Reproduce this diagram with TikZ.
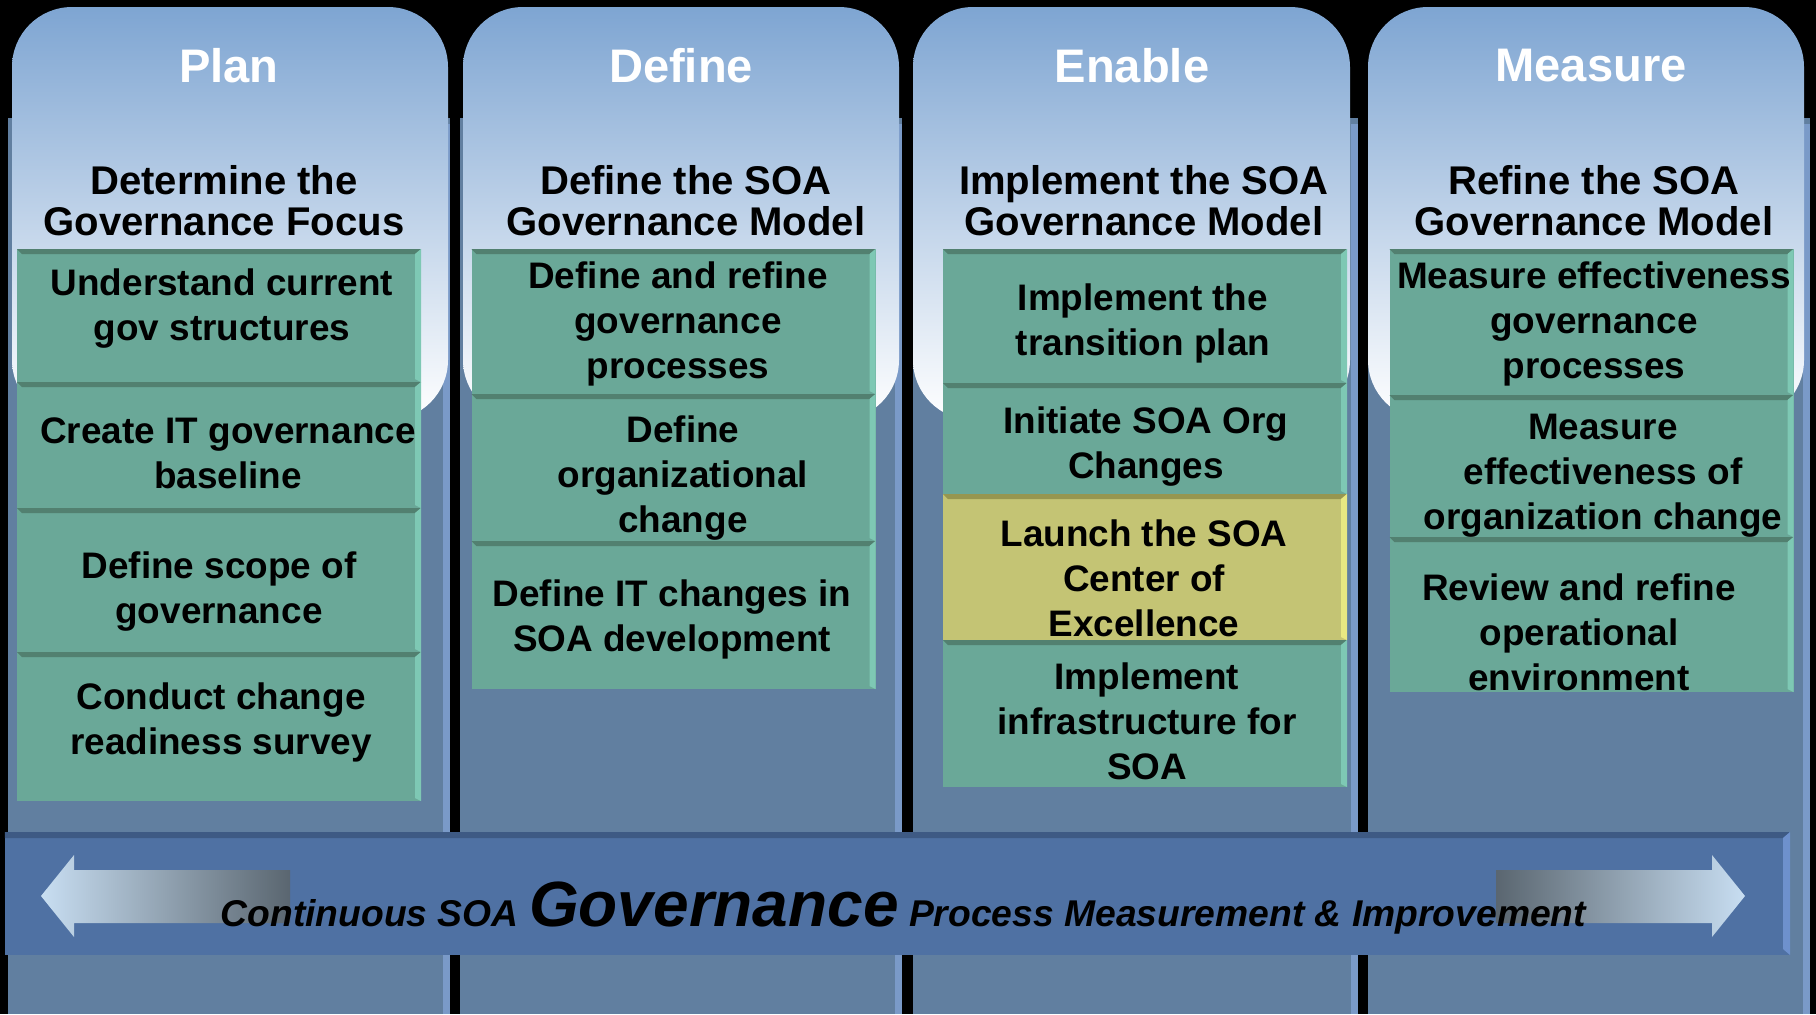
\documentclass[tikz,border=0pt]{standalone}
\usepackage{fontspec}
\setmainfont{Liberation Sans}
\definecolor{panel}{RGB}{97,127,160}
\definecolor{panelstrip}{RGB}{122,154,200}
\definecolor{headtop}{RGB}{126,165,210}
\definecolor{taskgreen}{RGB}{106,168,152}
\definecolor{taskdark}{RGB}{82,128,112}
\definecolor{tasklight}{RGB}{126,200,180}
\definecolor{coeyellow}{RGB}{196,196,116}
\definecolor{coedark}{RGB}{150,150,80}
\definecolor{coelight}{RGB}{232,232,130}
\definecolor{bannerblue}{RGB}{79,113,163}
\definecolor{bannerdark}{RGB}{62,90,132}
\definecolor{bannerlight}{RGB}{110,145,205}
\definecolor{arrowlight}{RGB}{200,222,242}
\definecolor{arrowdark}{RGB}{90,102,112}
\tikzset{
  bevel/.style n args={3}{fill=#1, inner sep=0pt, minimum width=40.4mm,
    path picture={
      \fill[#2] (path picture bounding box.north west) -- (path picture bounding box.north east)
        -- ([shift={(-0.6mm,-0.5mm)}]path picture bounding box.north east)
        -- ([shift={(0.5mm,-0.5mm)}]path picture bounding box.north west) -- cycle;
      \fill[#3] (path picture bounding box.north east) -- (path picture bounding box.south east)
        -- ([shift={(-0.6mm,0.3mm)}]path picture bounding box.south east)
        -- ([shift={(-0.6mm,-0.5mm)}]path picture bounding box.north east) -- cycle;
    }},
  task/.style={bevel={taskgreen}{taskdark}{tasklight}},
  coe/.style={bevel={coeyellow}{coedark}{coelight}},
  phase/.style={text=white, font=\fontsize{13.4}{16}\selectfont\bfseries},
  goal/.style={align=center, font=\fontsize{11.4}{11.7}\selectfont\bfseries},
  tasktext/.style={align=center, font=\fontsize{10.5}{12.8}\selectfont\bfseries}
}
\begin{document}
\begin{tikzpicture}[x=0.1mm, y=-0.1mm]
\useasboundingbox (0,0) rectangle (1816,1014);
\fill[black] (0,0) rectangle (1816,1014);

% Column panels
\fill[panel] (8,118) rectangle (450,1014);
\fill[panel] (460,118) rectangle (902,1014);
\fill[panel] (913,118) rectangle (1358,1014);
\fill[panel] (1368,118) rectangle (1810,1014);
\fill[panelstrip] (443,124) rectangle (450,1014);
\fill[panelstrip] (895,124) rectangle (902,1014);
\fill[panelstrip] (1351,124) rectangle (1358,1014);
\fill[panelstrip] (1803,124) rectangle (1810,1014);

% Rounded headers
\shade[top color=headtop, bottom color=white, rounded corners=6mm] (12,7) rectangle (448,420);
\shade[top color=headtop, bottom color=white, rounded corners=6mm] (463,7) rectangle (899,420);
\shade[top color=headtop, bottom color=white, rounded corners=6mm] (913,7) rectangle (1350,420);
\shade[top color=headtop, bottom color=white, rounded corners=6mm] (1368,7) rectangle (1804,420);

% Phases
\node[phase] (plan) at (229,66) {Plan};
\node[phase] (define) at (681,66) {Define};
\node[phase] (enable) at (1132,66) {Enable};
\node[phase] (measure) at (1591,66) {Measure};

% Goals
\node[goal] (plangoal) at (224,201) {Determine the\\Governance Focus};
\node[goal] (definegoal) at (686,201) {Define the SOA\\Governance Model};
\node[goal] (enablegoal) at (1144,201) {Implement the SOA\\Governance Model};
\node[goal] (measuregoal) at (1594,201) {Refine the SOA\\Governance Model};

% Plan tasks
\node[task, minimum height=13.3mm] (P1) at (219,315.5) {};
\node[task, minimum height=12.6mm] (P2) at (219,445) {};
\node[task, minimum height=14.4mm] (P3) at (219,580) {};
\node[task, minimum height=14.9mm] (P4) at (219,726.5) {};
\node[tasktext] (P1t) at (222,309) {Understand current\\gov structures};
\node[tasktext] (P2t) at (228,453) {Create IT governance\\baseline};
\node[tasktext] (P3t) at (219,592) {Define scope of\\governance};
\node[tasktext] (P4t) at (221,722) {Conduct change\\readiness survey};

% Define tasks
\node[task, minimum height=14.5mm] (D1) at (673.5,321.5) {};
\node[task, minimum height=14.7mm] (D2) at (673.5,467.5) {};
\node[task, minimum height=14.8mm] (D3) at (673.5,615) {};
\node[tasktext] (D1t) at (678,324) {Define and refine\\governance\\processes};
\node[tasktext] (D2t) at (683,478) {Define\\organizational\\change};
\node[tasktext] (D3t) at (672,619) {Define IT changes in\\SOA development};

% Enable tasks
\node[task, minimum height=13.4mm] (E1) at (1145,316) {};
\node[task, minimum height=11.1mm] (E2) at (1145,438.5) {};
\node[coe, minimum height=14.6mm] (E3) at (1145,567) {};
\node[task, minimum height=14.7mm] (E4) at (1145,713.5) {};
\node[tasktext] (E1t) at (1143,323) {Implement the\\transition plan};
\node[tasktext] (E2t) at (1146,447) {Initiate SOA Org\\Changes};
\node[tasktext] (E3t) at (1144,578) {Launch the SOA\\Center of\\Excellence};
\node[tasktext] (E4t) at (1147,721) {Implement\\infrastructure for\\SOA};

% Measure tasks
\node[task, minimum height=14.6mm] (M1) at (1591.5,322) {};
\node[task, minimum height=14.2mm] (M2) at (1591.5,466) {};
\node[task, minimum height=15.5mm] (M3) at (1591.5,614.5) {};
\node[tasktext] (M1t) at (1594,324) {Measure effectiveness\\governance\\processes};
\node[tasktext] (M2t) at (1603,476) {Measure\\effectiveness of\\organization change};
\node[tasktext] (M3t) at (1579,632) {Review and refine\\operational\\environment};

% Governance banner
\fill[bannerblue] (5,832) rectangle (1790,955);
\fill[bannerdark] (5,832) -- (1790,832) -- (1783,838) -- (5,838) -- cycle;
\fill[bannerlight] (1790,832) -- (1790,955) -- (1783,949) -- (1783,838) -- cycle;
\shade[left color=arrowlight, right color=arrowdark]
  (290,870) -- (74,870) -- (74,855) -- (41,896) -- (74,937) -- (74,923) -- (290,923) -- cycle;
\shade[left color=arrowdark, right color=arrowlight]
  (1496,870) -- (1712,870) -- (1712,855) -- (1745,896) -- (1712,937) -- (1712,923) -- (1496,923) -- cycle;
\node[anchor=base west, inner sep=0pt, font=\fontsize{10.6}{12}\selectfont\bfseries\itshape] (gov) at (220,926)
  {Continuous SOA {\fontsize{18.2}{20}\selectfont Governance} Process Measurement \& Improvement};
\end{tikzpicture}
\end{document}
